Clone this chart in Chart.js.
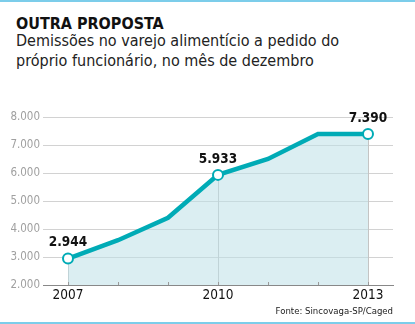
<!DOCTYPE html>
<html>
<head>
<meta charset="utf-8">
<script src="https://cdn.jsdelivr.net/npm/chart.js@4.4.0/dist/chart.umd.min.js"></script>
<style>
  html, body { margin: 0; padding: 0; background: #fff; }
  body { width: 415px; height: 324px; position: relative; overflow: hidden;
         font-family: "Liberation Sans Narrow", "DejaVu Sans Condensed", sans-serif; }
  .bar-top { position: absolute; left: 0; top: 0; width: 415px; height: 2px; background: #7ccdea; }
  .bar-bottom { position: absolute; left: 0; top: 322px; width: 415px; height: 2px; background: #7ccdea; }
  h1 { position: absolute; left: 16px; top: 14px; margin: 0; font-size: 16px; line-height: 20px; font-weight: bold; color: #111; }
  .sub { position: absolute; left: 16px; top: 31px; margin: 0; font-size: 16px; line-height: 20px; color: #222; }
  .src { position: absolute; right: 22px; top: 305px; font-size: 9.5px; color: #222; }
  #wrap { position: absolute; left: 0; top: 0; width: 415px; height: 324px; }
</style>
</head>
<body>
<div class="bar-top"></div>
<h1>OUTRA PROPOSTA</h1>
<p class="sub">Demissões no varejo alimentício a pedido do<br>próprio funcionário, no mês de dezembro</p>
<div id="wrap"><canvas id="chart"></canvas></div>
<div class="src">Fonte: Sincovaga-SP/Caged</div>
<div class="bar-bottom"></div>
<script>
const years = ['2007', '2008', '2009', '2010', '2011', '2012', '2013'];
const demissoes = [2944, 3600, 4400, 5933, 6500, 7390, 7390];
const shownYears = ['2007', '2010', '2013'];
const yTicks = [2000, 3000, 4000, 5000, 6000, 7000, 8000];

const TEAL = '#00abb6';
const FONT = '"Liberation Sans Narrow", "DejaVu Sans Condensed", sans-serif';

const fmt = v => v.toLocaleString('de-DE');
const isShown = i => shownYears.includes(years[i]);

// vertical lines, small tick marks and value labels
const extras = {
    id: 'extras',
    beforeDatasetsDraw(chart) {
        const { ctx, scales: { x, y } } = chart;
        const bottom = y.getPixelForValue(yTicks[0]);
        ctx.save();
        ctx.lineWidth = 1;
        ctx.strokeStyle = '#c4c4c4';
        years.forEach((yr, i) => {
            if (!isShown(i)) return;
            const px = Math.round(x.getPixelForValue(i)) + 0.5;
            ctx.beginPath();
            ctx.moveTo(px, y.getPixelForValue(demissoes[i]));
            ctx.lineTo(px, bottom);
            ctx.stroke();
        });
        ctx.restore();
    },
    afterDatasetsDraw(chart) {
        const { ctx, scales: { x, y } } = chart;
        const bottom = y.getPixelForValue(yTicks[0]);
        ctx.save();
        ctx.strokeStyle = '#999';
        ctx.lineWidth = 1;
        years.forEach((yr, i) => {
            const px = Math.round(x.getPixelForValue(i)) + 0.5;
            ctx.beginPath();
            ctx.moveTo(px, bottom);
            ctx.lineTo(px, bottom - 3);
            ctx.stroke();
        });
        ctx.fillStyle = '#111';
        ctx.font = '600 13.5px ' + FONT;
        ctx.textAlign = 'center';
        ctx.textBaseline = 'bottom';
        years.forEach((yr, i) => {
            if (!isShown(i)) return;
            ctx.fillText(fmt(demissoes[i]), x.getPixelForValue(i), y.getPixelForValue(demissoes[i]) - 9);
        });
        ctx.restore();
    }
};

new Chart(document.getElementById('chart'), {
    type: 'line',
    data: {
        labels: years,
        datasets: [{
            data: demissoes,
            borderColor: TEAL,
            borderWidth: 4.5,
            backgroundColor: 'rgba(190, 224, 232, 0.55)',
            fill: 'start',
            tension: 0,
            pointRadius: years.map((y, i) => isShown(i) ? 5 : 0),
            pointBackgroundColor: '#fff',
            pointBorderColor: TEAL,
            pointBorderWidth: 2
        }]
    },
    options: {
        responsive: true,
        maintainAspectRatio: false,
        animation: false,
        layout: { padding: { left: 0, right: 22, top: 117, bottom: 0 } },
        plugins: { legend: { display: false }, tooltip: { enabled: false } },
        scales: {
            x: {
                offset: true,
                afterFit: s => { s.height = 39; },
                grid: { display: false, drawTicks: false },
                border: { color: '#888', width: 1 },
                ticks: {
                    autoSkip: false,
                    maxRotation: 0,
                    padding: 2,
                    color: '#111',
                    font: { family: FONT, size: 13.5 },
                    callback: (v, i) => isShown(i) ? years[i] : ''
                }
            },
            y: {
                min: 2000,
                max: 8000,
                afterFit: s => { s.width = 43; },
                afterBuildTicks: s => { s.ticks = yTicks.map(v => ({ value: v })); },
                grid: { color: '#d2d2d2', drawTicks: false },
                border: { display: false },
                ticks: {
                    padding: 3,
                    color: '#a0a0a0',
                    font: { family: FONT, size: 11.5 },
                    callback: v => fmt(v)
                }
            }
        }
    },
    plugins: [extras]
});
</script>
</body>
</html>
